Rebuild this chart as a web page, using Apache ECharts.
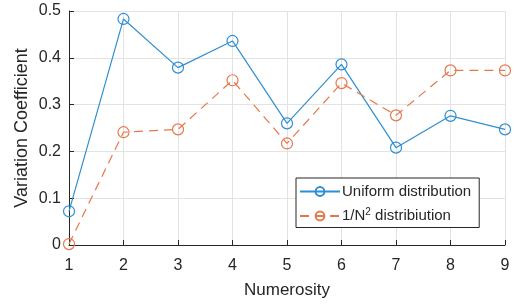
<!DOCTYPE html>
<html>
<head>
<meta charset="utf-8">
<script src="https://cdn.jsdelivr.net/npm/echarts@6/dist/echarts.min.js"></script>
<style>
  html, body { margin: 0; padding: 0; background: #fff; }
  #chart { width: 514px; height: 305px; }
</style>
</head>
<body>
<div id="chart"></div>
<script>
const numerosity = [1, 2, 3, 4, 5, 6, 7, 8, 9];
const uniformValues = [0.072, 0.483, 0.379, 0.436, 0.260, 0.386, 0.208, 0.276, 0.247];
const inverseSqValues = [0.002, 0.241, 0.247, 0.352, 0.217, 0.346, 0.277, 0.373, 0.373];
const seriesNames = ['Uniform distribution', '1/N2 distribiution'];

const font = 'Liberation Sans, Arial, Helvetica, sans-serif';
const axisColor = '#262626';
const blue = '#2f8fd1';
const orange = '#e5784b';

const pairs = function (vals) {
  return numerosity.map(function (x, i) {
    return [x, vals[i]];
  });
};

const myChart = echarts.init(document.getElementById('chart'));
const option = {
  animation: false,
  backgroundColor: '#fff',
  grid: {
    left: 69,
    right: 9,
    top: 11,
    bottom: 60
  },
  legend: {
    orient: 'vertical',
    left: 296,
    top: 178,
    width: 181,
    padding: [6, 8, 4, 3],
    itemGap: 8,
    itemWidth: 40,
    itemHeight: 11,
    borderColor: axisColor,
    borderWidth: 1,
    backgroundColor: '#fff',
    data: seriesNames,
    formatter: function (name) {
      if (name === seriesNames[1]) {
        return '1/N{sup|2} distribiution';
      }
      return name;
    },
    textStyle: {
      fontFamily: font,
      fontSize: 15,
      color: axisColor,
      padding: [0, 0, 0, -3],
      rich: {
        sup: {
          fontFamily: font,
          fontSize: 10,
          color: axisColor,
          verticalAlign: 'top',
          padding: [0, 0, 8, 0]
        }
      }
    }
  },
  xAxis: {
    type: 'value',
    min: 1,
    max: 9,
    interval: 1,
    name: 'Numerosity',
    nameLocation: 'middle',
    nameGap: 37,
    nameMoveOverlap: false,
    nameTextStyle: { fontFamily: font, fontSize: 17, color: axisColor },
    axisLine: { lineStyle: { color: axisColor, width: 1 } },
    axisTick: { inside: true, length: 5, lineStyle: { color: axisColor } },
    axisLabel: { fontFamily: font, fontSize: 16, color: axisColor, margin: 13 },
    splitLine: { show: true, lineStyle: { color: '#e3e3e3', width: 1 } }
  },
  yAxis: {
    type: 'value',
    min: 0,
    max: 0.5,
    interval: 0.1,
    name: 'Variation Coefficient',
    nameLocation: 'middle',
    nameGap: 38,
    nameMoveOverlap: false,
    nameTextStyle: { fontFamily: font, fontSize: 18, color: axisColor },
    axisLine: { show: true, lineStyle: { color: axisColor, width: 1 } },
    axisTick: { show: true, inside: true, length: 5, lineStyle: { color: axisColor } },
    axisLabel: { fontFamily: font, fontSize: 16, color: axisColor, margin: 8 },
    splitLine: { show: true, lineStyle: { color: '#e3e3e3', width: 1 } }
  },
  series: [
    {
      name: seriesNames[0],
      type: 'line',
      data: pairs(uniformValues),
      symbol: 'circle',
      symbolSize: 11,
      color: blue,
      lineStyle: { color: blue, width: 1.2 },
      itemStyle: { color: 'rgba(0,0,0,0)', borderColor: blue, borderWidth: 1.2 }
    },
    {
      name: seriesNames[1],
      type: 'line',
      data: pairs(inverseSqValues),
      symbol: 'circle',
      symbolSize: 11,
      color: orange,
      lineStyle: { color: orange, width: 1.2, type: [9, 6] },
      itemStyle: { color: 'rgba(0,0,0,0)', borderColor: orange, borderWidth: 1.2 }
    }
  ]
};
myChart.setOption(option);
</script>
</body>
</html>
